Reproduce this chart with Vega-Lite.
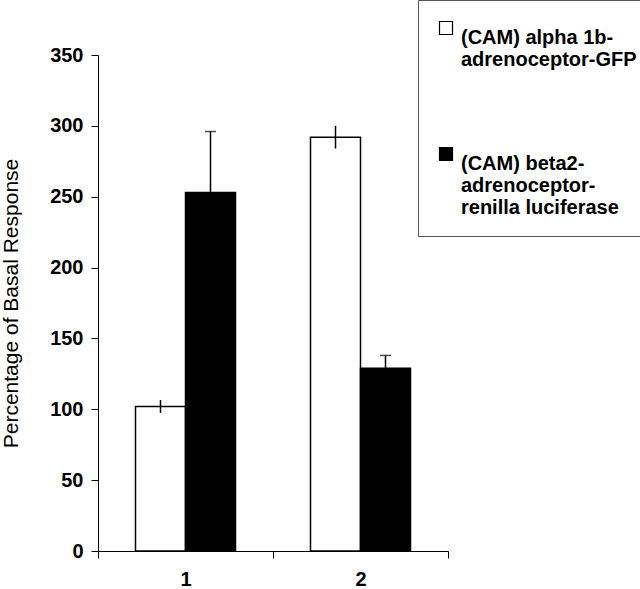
{
  "$schema": "https://vega.github.io/schema/vega-lite/v6.json",
  "width": 350,
  "height": 496,
  "autosize": "none",
  "padding": {"left": 98, "top": 55, "right": 192, "bottom": 38},
  "background": "white",
  "config": {
    "view": {"stroke": null},
    "font": "Liberation Sans"
  },
  "data": {
    "values": [
      {"group": "1", "series": "(CAM) alpha 1b-adrenoceptor-GFP", "value": 102, "lo": 97.5, "hi": 106.5},
      {"group": "1", "series": "(CAM) beta2-adrenoceptor-renilla luciferase", "value": 253, "lo": 210, "hi": 296},
      {"group": "2", "series": "(CAM) alpha 1b-adrenoceptor-GFP", "value": 292, "lo": 284, "hi": 300},
      {"group": "2", "series": "(CAM) beta2-adrenoceptor-renilla luciferase", "value": 129, "lo": 120, "hi": 138}
    ]
  },
  "encoding": {
    "x": {
      "field": "group", "type": "nominal",
      "scale": {"paddingInner": 0, "paddingOuter": 0},
      "axis": {
        "title": null, "labelAngle": 0, "labelFont": "Liberation Sans", "labelFontWeight": "bold",
        "labelFontSize": 20, "labelColor": "black", "labelPadding": 11, "tickBand": "extent",
        "tickSize": 7, "tickColor": "black", "domainColor": "black", "tickWidth": 1, "domainWidth": 1
      }
    },
    "xOffset": {"field": "series", "type": "nominal", "scale": {"paddingInner": 0, "paddingOuter": 0.75}}
  },
  "layer": [
    {
      "mark": {"type": "bar", "stroke": "black", "strokeWidth": 1.5},
      "encoding": {
        "y": {
          "field": "value", "type": "quantitative",
          "scale": {"domain": [0, 350], "nice": false},
          "axis": {
            "values": [0, 50, 100, 150, 200, 250, 300, 350], "grid": false,
            "title": "Percentage of Basal Response", "titleFont": "Liberation Sans", "titleFontSize": 21,
            "titleFontWeight": "normal", "titleColor": "black", "titlePadding": 28,
            "labelFont": "Liberation Sans", "labelFontWeight": "bold", "labelFontSize": 20, "labelColor": "black",
            "labelPadding": 8, "tickSize": 7, "tickColor": "black", "domainColor": "black", "tickWidth": 1, "domainWidth": 1
          }
        },
        "fill": {
          "field": "series", "type": "nominal",
          "scale": {"range": ["white", "black"]},
          "legend": {
            "orient": "none", "legendX": 320, "legendY": -55, "title": null,
            "strokeColor": "#555", "fillColor": "white", "padding": 18,
            "symbolType": "square", "symbolSize": 169, "symbolStrokeColor": "black", "symbolStrokeWidth": 1.2,
            "labelFont": "Liberation Sans", "labelFontWeight": "bold", "labelFontSize": 20, "labelColor": "black",
            "labelOffset": 5, "labelLimit": 400, "rowPadding": 74, "labelBaseline": "top", "labelLineHeight": 23,
            "encoding": {"labels": {"update": {"dy": {"value": -8}}}},
            "labelExpr": "datum.label == '(CAM) alpha 1b-adrenoceptor-GFP' ? ['(CAM) alpha 1b-', 'adrenoceptor-GFP'] : ['(CAM) beta2-', 'adrenoceptor-', 'renilla luciferase']"
          }
        }
      }
    },
    {
      "mark": {"type": "rule", "color": "black", "strokeWidth": 1.5},
      "encoding": {
        "y": {"field": "lo", "type": "quantitative"},
        "y2": {"field": "hi"}
      }
    },
    {
      "transform": [{"filter": "datum.series == '(CAM) beta2-adrenoceptor-renilla luciferase'"}],
      "mark": {"type": "tick", "color": "black", "size": 11, "thickness": 1.5},
      "encoding": {
        "y": {"field": "hi", "type": "quantitative"}
      }
    }
  ]
}
